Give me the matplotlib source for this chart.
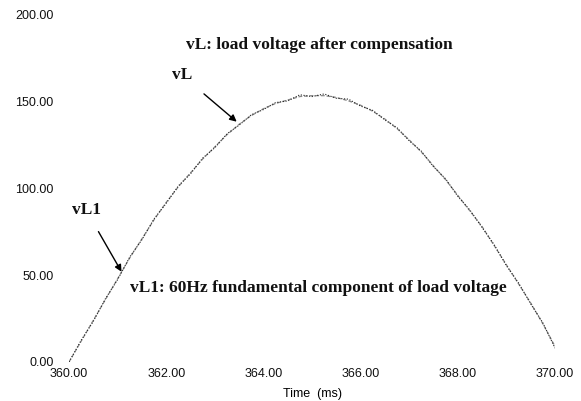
import matplotlib
matplotlib.use("Agg")
import matplotlib.pyplot as plt
from matplotlib.ticker import FormatStrFormatter

time_ms = [360.00, 360.25, 360.50, 360.75, 361.00, 361.25, 361.50, 361.75,
           362.00, 362.25, 362.50, 362.75, 363.00, 363.25, 363.50, 363.75,
           364.00, 364.25, 364.50, 364.75, 365.00, 365.25, 365.50, 365.75,
           366.00, 366.25, 366.50, 366.75, 367.00, 367.25, 367.50, 367.75,
           368.00, 368.25, 368.50, 368.75, 369.00, 369.25, 369.50, 369.75,
           370.00]
vL1 = [0, 12, 24, 36, 48, 60, 71, 82, 92, 101, 109, 117, 124, 131, 137, 142,
       146, 149, 151, 153, 153.5, 153.5, 152.5, 150.5, 148, 144.5, 140, 134.5,
       128, 121, 113, 105, 96, 87, 78, 67, 56, 45, 34, 22, 9]
vL = [0, 12.5, 23.5, 36.5, 47.5, 60.5, 70.5, 82.5, 91.5, 101.5, 108.5, 117.5, 123.5, 131.5, 136.5, 142.5,
      145.5, 149.5, 150.5, 154, 153, 154.5, 152, 151.5, 147.5, 145, 139.5, 135,
      127.5, 121.5, 112.5, 105.5, 95.5, 87.5, 77.5, 67.5, 55.5, 45.5, 33.5, 22.5, 8]

x_ticks = [360, 362, 364, 366, 368, 370]
y_ticks = [0, 50, 100, 150, 200]

fig = plt.figure(figsize=(5.81, 4.01), dpi=100)
ax = fig.add_axes([0.1188, 0.0973, 0.8365, 0.8653])

ax.plot(time_ms, vL1, color="#888888", lw=0.9, linestyle=(0, (3, 1.5)))
ax.plot(time_ms, vL, color="#222222", lw=0.8, linestyle=(0, (1, 1.5)))

ax.set_xlim(360, 370)
ax.set_ylim(0, 200)
ax.set_xticks(x_ticks)
ax.set_yticks(y_ticks)
ax.xaxis.set_major_formatter(FormatStrFormatter("%.2f"))
ax.yaxis.set_major_formatter(FormatStrFormatter("%.2f"))
for s in ax.spines.values():
    s.set_visible(False)
ax.tick_params(length=0, labelsize=9, colors="#111111")
ax.tick_params(axis="y", pad=11)
ax.tick_params(axis="x", pad=4)
for lab in ax.get_xticklabels() + ax.get_yticklabels():
    lab.set_family("Liberation Sans")
ax.set_xlabel("Time  (ms)", family="Liberation Sans", fontsize=9, labelpad=6)

serif = dict(family="Liberation Serif", fontweight="bold", fontsize=12.5, color="#111111")
ax.text(365.14, 182.7, "vL: load voltage after compensation", ha="center", va="center", **serif)
ax.text(365.14, 42.6, "vL1: 60Hz fundamental component of load voltage", ha="center", va="center", **serif)

ax.annotate("vL", xy=(363.45, 138.5), xytext=(362.32, 165.4), ha="center", va="center",
            arrowprops=dict(arrowstyle="-|>", color="black", lw=1.0, shrinkA=9, shrinkB=0,
                            mutation_scale=10), **serif)
ax.annotate("vL1", xy=(361.08, 52), xytext=(360.35, 87.6), ha="center", va="center",
            arrowprops=dict(arrowstyle="-|>", color="black", lw=1.0, shrinkA=9, shrinkB=0,
                            mutation_scale=10), **serif)

fig.savefig("out.png", dpi=100)
